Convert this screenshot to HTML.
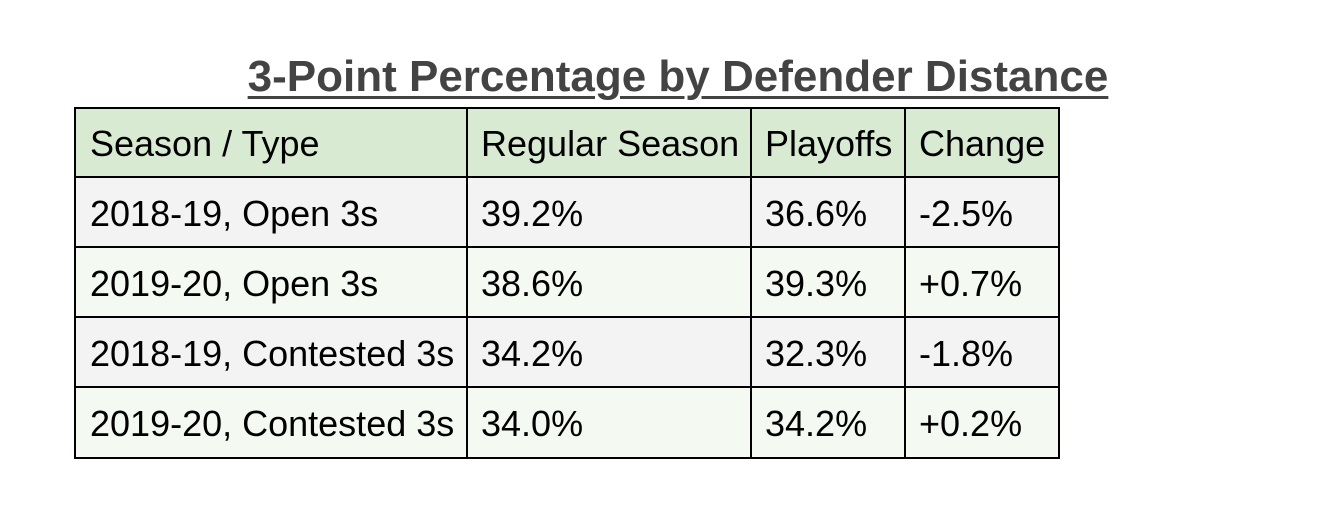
<!DOCTYPE html>
<html><head><meta charset="utf-8"><style>
body{margin:0;width:1338px;height:530px;background:#fff;position:relative;overflow:hidden;font-family:"Liberation Sans",Arial,sans-serif;}
#title{position:absolute;left:0;width:1356px;top:52px;text-align:center;font-size:44px;font-weight:bold;color:#434343;text-decoration:underline;text-decoration-thickness:3px;text-underline-offset:5px;line-height:50px;}
.cell{position:absolute;box-sizing:border-box;border:2px solid #000;font-size:36px;color:#000;display:flex;align-items:center;padding-left:13px;padding-top:3px;white-space:nowrap;overflow:hidden;}
</style></head><body>
<div id="title">3-Point Percentage by Defender Distance</div>
<div id="tbl"></div>
<script>
const header=["Season / Type","Regular Season","Playoffs","Change"];
const rows=[
["2018-19, Open 3s","39.2%","36.6%","-2.5%"],
["2019-20, Open 3s","38.6%","39.3%","+0.7%"],
["2018-19, Contested 3s","34.2%","32.3%","-1.8%"],
["2019-20, Contested 3s","34.0%","34.2%","+0.2%"]];
const colX=[74,466,750,904,1058];
const rowY=[107,176,246,316,386,457];
const bgs=["#d9ead3","#f3f3f3","#f4f9f1","#f3f3f3","#f4f9f1"];
const tbl=document.getElementById('tbl');
const all=[header].concat(rows);
all.forEach((r,ri)=>{r.forEach((t,ci)=>{
const d=document.createElement('div');
d.className='cell';


d.style.left=colX[ci]+'px';d.style.top=rowY[ri]+'px';
d.style.width=(colX[ci+1]-colX[ci]+2)+'px';d.style.height=(rowY[ri+1]-rowY[ri]+2)+'px';
d.style.background=bgs[ri];
d.style.paddingLeft=(ci===0?'14px':'13px');
d.textContent=t;tbl.appendChild(d);});});
</script>
</body></html>
